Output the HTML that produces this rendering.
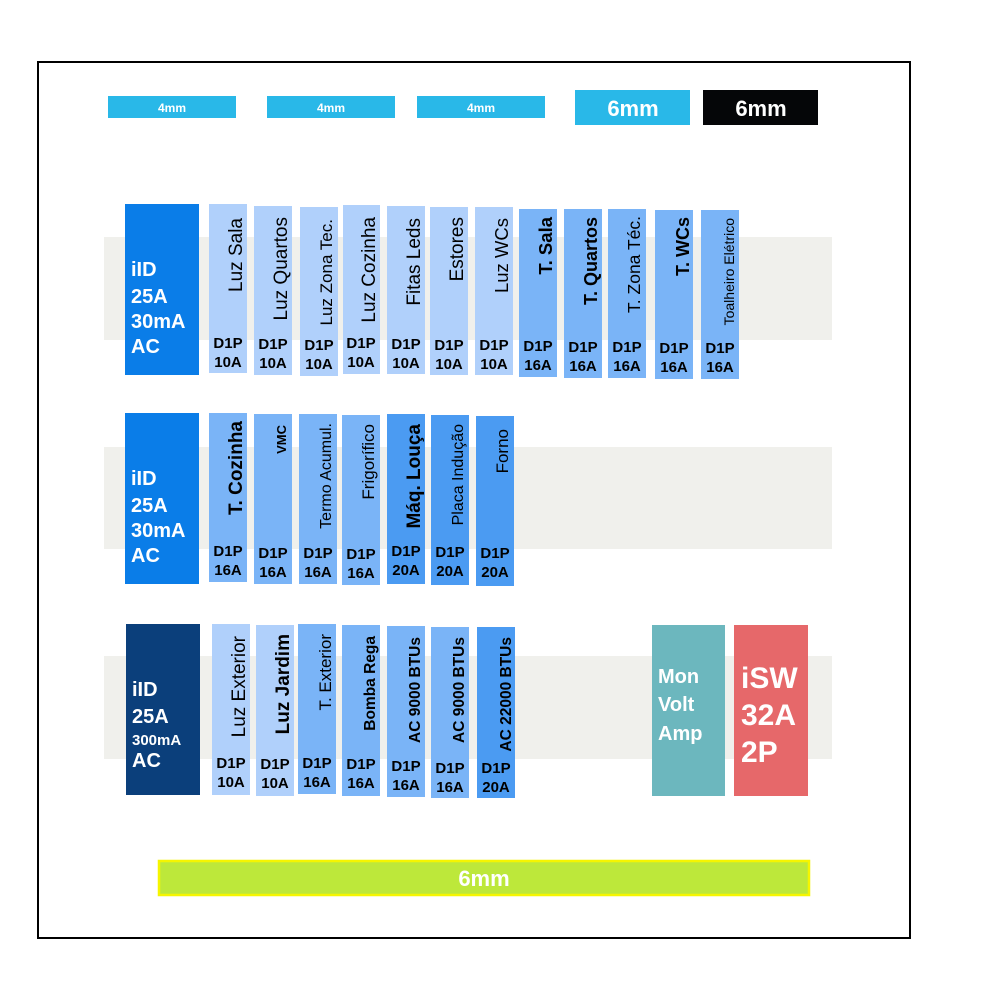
<!DOCTYPE html>
<html><head><meta charset="utf-8"><style>body{margin:0;background:#fff}svg{display:block}text{font-family:"Liberation Sans",Arial,sans-serif}</style></head>
<body>
<svg width="991" height="1000" viewBox="0 0 991 1000" xmlns="http://www.w3.org/2000/svg">
<rect width="991" height="1000" fill="#fff"/>
<rect x="38" y="62" width="872" height="876" fill="none" stroke="#000" stroke-width="2"/>
<g fill="#f0f0ec">
<rect x="104" y="237" width="728" height="103"/>
<rect x="104" y="447" width="728" height="102"/>
<rect x="104" y="656" width="728" height="103"/>
</g>
<g fill="#29b8e8">
<rect x="108" y="96" width="128" height="22"/>
<rect x="267" y="96" width="128" height="22"/>
<rect x="417" y="96" width="128" height="22"/>
<rect x="575" y="90" width="115" height="35"/>
</g>
<rect x="703" y="90" width="115" height="35" fill="#050608"/>
<g fill="#fff" font-weight="bold" text-anchor="middle">
<text x="172" y="112" font-size="12">4mm</text>
<text x="331" y="112" font-size="12">4mm</text>
<text x="481" y="112" font-size="12">4mm</text>
<text x="633" y="116" font-size="22">6mm</text>
<text x="761" y="116" font-size="22">6mm</text>
</g>
<rect x="159" y="861" width="650" height="34" fill="#bde83a" stroke="#f5f500" stroke-width="2.5"/>
<text x="484" y="886" font-size="22" font-weight="bold" fill="#fff" text-anchor="middle">6mm</text>

<rect x="125" y="204" width="74" height="171" fill="#0a7de8"/>
<rect x="125" y="413" width="74" height="171" fill="#0a7de8"/>
<rect x="126" y="624" width="74" height="171" fill="#0b3f7b"/>
<g fill="#fff" font-weight="bold" font-size="20">
<text x="131" y="276">iID</text><text x="131" y="303">25A</text><text x="131" y="328">30mA</text><text x="131" y="353">AC</text>
<text x="131" y="485">iID</text><text x="131" y="512">25A</text><text x="131" y="537">30mA</text><text x="131" y="562">AC</text>
<text x="132" y="696">iID</text><text x="132" y="723">25A</text><text x="132" y="745" font-size="15">300mA</text><text x="132" y="767">AC</text>
</g>

<rect x="652" y="625" width="73" height="171" fill="#6cb7be"/>
<rect x="734" y="625" width="74" height="171" fill="#e6686a"/>
<g fill="#fff" font-weight="bold">
<text x="658" y="683" font-size="20">Mon</text><text x="658" y="711" font-size="20">Volt</text><text x="658" y="740" font-size="20">Amp</text>
<text x="741" y="688" font-size="30">iSW</text><text x="741" y="725" font-size="30">32A</text><text x="741" y="762" font-size="30">2P</text>
</g>

<g>
<rect x="209" y="204" width="38" height="169" fill="#b0d0fb"/>
<rect x="254" y="206" width="38" height="169" fill="#b0d0fb"/>
<rect x="300" y="207" width="38" height="169" fill="#b0d0fb"/>
<rect x="343" y="205" width="37" height="169" fill="#b0d0fb"/>
<rect x="387" y="206" width="38" height="168" fill="#b0d0fb"/>
<rect x="430" y="207" width="38" height="168" fill="#b0d0fb"/>
<rect x="475" y="207" width="38" height="168" fill="#b0d0fb"/>
<rect x="519" y="209" width="38" height="168" fill="#7ab4f7"/>
<rect x="564" y="209" width="38" height="169" fill="#7ab4f7"/>
<rect x="608" y="209" width="38" height="169" fill="#7ab4f7"/>
<rect x="655" y="210" width="38" height="169" fill="#7ab4f7"/>
<rect x="701" y="210" width="38" height="169" fill="#7ab4f7"/>
<rect x="209" y="413" width="38" height="169" fill="#7ab4f7"/>
<rect x="254" y="414" width="38" height="170" fill="#7ab4f7"/>
<rect x="299" y="414" width="38" height="170" fill="#7ab4f7"/>
<rect x="342" y="415" width="38" height="170" fill="#7ab4f7"/>
<rect x="387" y="414" width="38" height="170" fill="#4b9bf2"/>
<rect x="431" y="415" width="38" height="170" fill="#4b9bf2"/>
<rect x="476" y="416" width="38" height="170" fill="#4b9bf2"/>
<rect x="212" y="624" width="38" height="171" fill="#b0d0fb"/>
<rect x="256" y="625" width="38" height="171" fill="#b0d0fb"/>
<rect x="298" y="624" width="38" height="170" fill="#7ab4f7"/>
<rect x="342" y="625" width="38" height="171" fill="#7ab4f7"/>
<rect x="387" y="626" width="38" height="171" fill="#7ab4f7"/>
<rect x="431" y="627" width="38" height="171" fill="#7ab4f7"/>
<rect x="477" y="627" width="38" height="171" fill="#4b9bf2"/>
</g>

<g fill="#000" text-anchor="end" font-size="19">
<text transform="translate(242,218) rotate(-90)">Luz Sala</text>
<text transform="translate(287,217) rotate(-90)">Luz Quartos</text>
<text transform="translate(332,219) rotate(-90)" font-size="17">Luz Zona Tec.</text>
<text transform="translate(375,217) rotate(-90)">Luz Cozinha</text>
<text transform="translate(420,218) rotate(-90)">Fitas Leds</text>
<text transform="translate(463,217) rotate(-90)">Estores</text>
<text transform="translate(508,218) rotate(-90)" font-size="18.5">Luz WCs</text>
<text transform="translate(552,217) rotate(-90)" font-weight="bold" font-size="18.5">T. Sala</text>
<text transform="translate(597,217) rotate(-90)" font-weight="bold" font-size="18">T. Quartos</text>
<text transform="translate(640,216) rotate(-90)" font-size="17.5">T. Zona Téc.</text>
<text transform="translate(689,217) rotate(-90)" font-weight="bold" font-size="18">T. WCs</text>
<text transform="translate(734,218) rotate(-90)" font-size="14">Toalheiro Elétrico</text>

<text transform="translate(242,421) rotate(-90)" font-weight="bold" font-size="19">T. Cozinha</text>
<text transform="translate(286,425) rotate(-90)" font-size="13" font-weight="bold">VMC</text>
<text transform="translate(331,423) rotate(-90)" font-size="16">Termo Acumul.</text>
<text transform="translate(374,424) rotate(-90)" font-size="17">Frigorífico</text>
<text transform="translate(420,424) rotate(-90)" font-weight="bold" font-size="19">Máq. Louça</text>
<text transform="translate(463,424) rotate(-90)" font-size="16">Placa Indução</text>
<text transform="translate(508,429) rotate(-90)" font-size="17">Forno</text>

<text transform="translate(245,636) rotate(-90)" font-size="19">Luz Exterior</text>
<text transform="translate(289,634) rotate(-90)" font-weight="bold" font-size="19">Luz Jardim</text>
<text transform="translate(331,634) rotate(-90)" font-size="17">T. Exterior</text>
<text transform="translate(375,636) rotate(-90)" font-size="15.5" font-weight="bold">Bomba Rega</text>
<text transform="translate(420,637) rotate(-90)" font-size="15.5" font-weight="bold">AC 9000 BTUs</text>
<text transform="translate(464,637) rotate(-90)" font-size="15.5" font-weight="bold">AC 9000 BTUs</text>
<text transform="translate(511,637) rotate(-90)" font-size="15.5" font-weight="bold">AC 22000 BTUs</text>
</g>

<g fill="#000" font-weight="bold" font-size="15" text-anchor="middle">
<text x="228" y="348">D1P</text><text x="228" y="367">10A</text>
<text x="273" y="349">D1P</text><text x="273" y="368">10A</text>
<text x="319" y="350">D1P</text><text x="319" y="369">10A</text>
<text x="361" y="348">D1P</text><text x="361" y="367">10A</text>
<text x="406" y="349">D1P</text><text x="406" y="368">10A</text>
<text x="449" y="350">D1P</text><text x="449" y="369">10A</text>
<text x="494" y="350">D1P</text><text x="494" y="369">10A</text>
<text x="538" y="351">D1P</text><text x="538" y="370">16A</text>
<text x="583" y="352">D1P</text><text x="583" y="371">16A</text>
<text x="627" y="352">D1P</text><text x="627" y="371">16A</text>
<text x="674" y="353">D1P</text><text x="674" y="372">16A</text>
<text x="720" y="353">D1P</text><text x="720" y="372">16A</text>

<text x="228" y="556">D1P</text><text x="228" y="575">16A</text>
<text x="273" y="558">D1P</text><text x="273" y="577">16A</text>
<text x="318" y="558">D1P</text><text x="318" y="577">16A</text>
<text x="361" y="559">D1P</text><text x="361" y="578">16A</text>
<text x="406" y="556">D1P</text><text x="406" y="575">20A</text>
<text x="450" y="557">D1P</text><text x="450" y="576">20A</text>
<text x="495" y="558">D1P</text><text x="495" y="577">20A</text>

<text x="231" y="768">D1P</text><text x="231" y="787">10A</text>
<text x="275" y="769">D1P</text><text x="275" y="788">10A</text>
<text x="317" y="768">D1P</text><text x="317" y="787">16A</text>
<text x="361" y="769">D1P</text><text x="361" y="788">16A</text>
<text x="406" y="771">D1P</text><text x="406" y="790">16A</text>
<text x="450" y="773">D1P</text><text x="450" y="792">16A</text>
<text x="496" y="773">D1P</text><text x="496" y="792">20A</text>
</g>
</svg>
</body></html>
